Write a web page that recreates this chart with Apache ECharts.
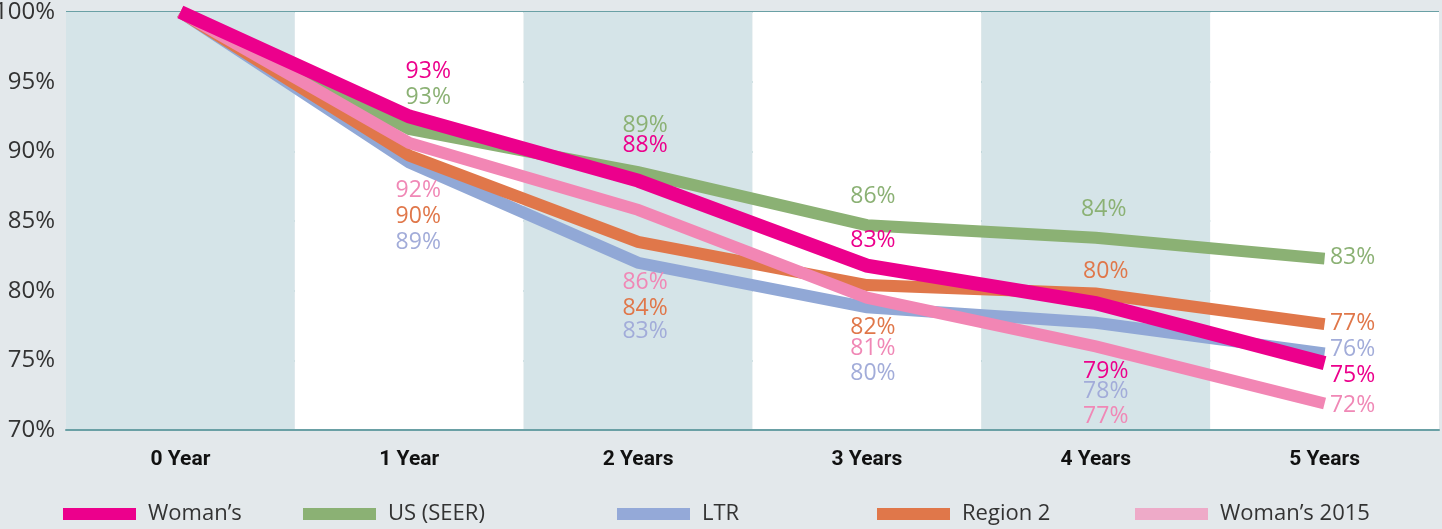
<!DOCTYPE html>
<html>
<head>
<meta charset="utf-8">
<script src="https://cdn.jsdelivr.net/npm/echarts@6/dist/echarts.min.js"></script>
<style>
html,body{margin:0;padding:0;background:#e3e8eb;}
#c{width:1442px;height:529px;}
</style>
</head>
<body>
<div id="c"></div>
<script>
// ---- data ----
var categories = ['0 Year', '1 Year', '2 Years', '3 Years', '4 Years', '5 Years'];
var yTicks = [70, 75, 80, 85, 90, 95, 100];

var womans      = [100, 92.5, 87.9, 81.8, 79.1, 74.8];
var usSeer      = [100, 91.6, 88.5, 84.7, 83.8, 82.3];
var ltr         = [100, 89.2, 82.0, 78.8, 77.7, 75.5];
var region2     = [100, 89.7, 83.5, 80.4, 79.8, 77.6];
var womans2015  = [100, 90.6, 85.8, 79.5, 76.0, 71.9];

// printed labels (percent)
var womansLabels     = [null, 93, 88, 83, 79, 75];
var usSeerLabels     = [null, 93, 89, 86, 84, 83];
var ltrLabels        = [null, 89, 83, 80, 78, 76];
var region2Labels    = [null, 90, 84, 82, 80, 77];
var womans2015Labels = [null, 92, 86, 81, 77, 72];

// ---- styling (label offsets in px relative to each point) ----
var FONT = '"Open Sans", "Noto Sans", sans-serif';
var offs = {
  womans:     [[0,0],[19,-45],[7,-35],[6,-25],[10,68],[28,12]],
  usSeer:     [[0,0],[19,-32],[7,-47],[6,-29],[8,-28],[28,-1]],
  ltr:        [[0,0],[9,80],[7,69],[6,66],[10,69],[28,-4]],
  region2:    [[0,0],[9,61],[7,67],[6,42],[10,-22],[28,-1]],
  womans2015: [[0,0],[9,47],[7,73],[6,51],[10,70],[28,2]]
};

function makeSeries(name, values, labels, key, color, labelColor, width, z) {
  return {
    name: name,
    type: 'line',
    z: z,
    symbol: 'circle',
    symbolSize: 0,
    showSymbol: true,
    lineStyle: { color: color, width: width, cap: 'butt', join: 'miter' },
    itemStyle: { color: color },
    emphasis: { disabled: true },
    data: values.map(function (v, i) {
      var lab = labels[i];
      return {
        value: v,
        label: lab == null ? { show: false } : {
          show: true,
          position: 'inside',
          offset: offs[key][i],
          formatter: lab + '%',
          color: labelColor,
          fontSize: 23,
          fontFamily: FONT,
          align: 'center',
          verticalAlign: 'middle'
        }
      };
    })
  };
}

var series = [
  makeSeries('LTR', ltr, ltrLabels, 'ltr', '#91a8d6', '#a2acd9', 12, 2),
  makeSeries('Region 2', region2, region2Labels, 'region2', '#e0774a', '#e0774a', 12, 3),
  makeSeries('US (SEER)', usSeer, usSeerLabels, 'usSeer', '#8bb174', '#8bb174', 12, 4),
  makeSeries('Woman\u2019s 2015', womans2015, womans2015Labels, 'womans2015', '#f286b4', '#f088b6', 12, 5),
  makeSeries('Woman\u2019s', womans, womansLabels, 'womans', '#ec008c', '#ec008c', 14, 6)
];

var legendItems = [
  { name: 'Woman\u2019s', left: 63, color: '#ec008c' },
  { name: 'US (SEER)', left: 303, color: '#8bb174' },
  { name: 'LTR', left: 617, color: '#94a9d8' },
  { name: 'Region 2', left: 877, color: '#e0774a' },
  { name: 'Woman\u2019s 2015', left: 1135, color: '#eeaac8' }
];

var legends = legendItems.map(function (it) {
  return {
    data: [{ name: it.name, itemStyle: { color: it.color } }],
    left: it.left,
    top: 502,
    padding: 0,
    icon: 'rect',
    itemWidth: 73,
    itemHeight: 12,
    selectedMode: false,
    textStyle: { color: '#333', fontSize: 22, fontFamily: FONT, lineHeight: 24, padding: [0, 0, 0, 7] }
  };
});

var chart = echarts.init(document.getElementById('c'), null, { renderer: 'canvas' });
chart.setOption({
  backgroundColor: '#e3e8eb',
  animation: false,
  legend: legends,
  grid: { left: 66, right: 3, top: 12, bottom: 99, containLabel: false, outerBoundsMode: 'none' },
  xAxis: {
    type: 'category',
    data: categories,
    boundaryGap: true,
    axisLine: { show: true, lineStyle: { color: '#6aa0a5', width: 2 } },
    axisTick: { show: false },
    axisLabel: { color: '#111', fontSize: 21, fontWeight: 'bold', fontFamily: 'Roboto, "Open Sans", sans-serif', margin: 19 },
    splitArea: { show: true, areaStyle: { color: ['#d5e4e8', '#ffffff'] } },
    splitLine: { show: false }
  },
  yAxis: {
    type: 'value',
    min: yTicks[0],
    max: yTicks[yTicks.length - 1],
    interval: 5,
    axisLine: { show: false },
    axisTick: { show: false },
    axisLabel: { color: '#333', fontSize: 24, fontFamily: FONT, margin: 11, formatter: '{value}%' },
    splitLine: { show: true, lineStyle: { color: '#6aa0a5', width: 2 } }
  },
  series: series
});
</script>
</body>
</html>
